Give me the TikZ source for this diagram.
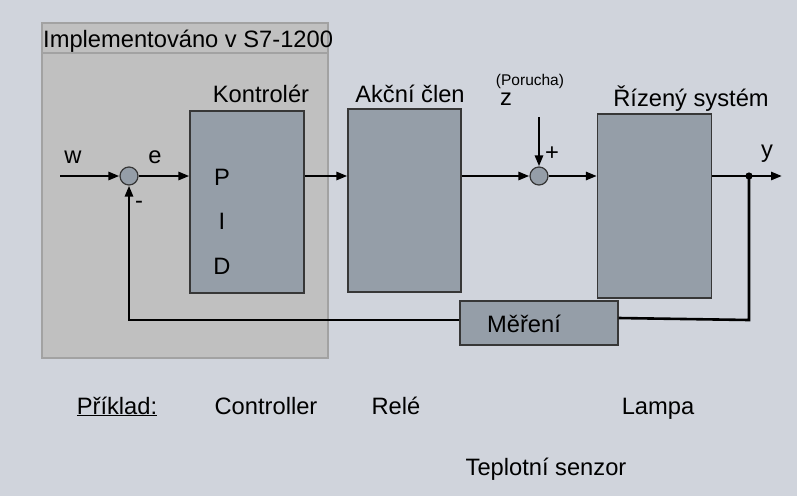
\documentclass[tikz,border=0pt]{standalone}
\usepackage{fontspec}
\setmainfont{Liberation Sans}
\usetikzlibrary{arrows.meta}
\definecolor{bgc}{RGB}{208,212,220}
\definecolor{implc}{RGB}{192,192,192}
\definecolor{implb}{RGB}{162,162,162}
\definecolor{blockc}{RGB}{149,158,168}
\definecolor{edgec}{RGB}{55,55,55}
\tikzset{
  txt/.style={font=\fontsize{23.7}{28}\selectfont, inner sep=0pt, text=black, anchor=base},
  small/.style={font=\fontsize{15.5}{18}\selectfont, inner sep=0pt, text=black, anchor=base},
  blockbox/.style={draw=edgec, line width=1.2pt, fill=blockc, inner sep=0pt},
  sumnode/.style={circle, draw=edgec, line width=1.2pt, fill=blockc, minimum size=18pt, inner sep=0pt},
  conn/.style={line width=2.6pt, draw=black},
  arr/.style={conn, -{Triangle[length=11pt,width=8pt]}},
}
\begin{document}
\begin{tikzpicture}[x=1pt,y=-1pt]
\fill[bgc] (0,0) rectangle (797,496);
\useasboundingbox (0,0) rectangle (797,496);
% implementation box
\draw[implb, fill=implc, line width=2.6pt] (42,23) rectangle (328,358);
\draw[implb, line width=2pt] (42,53) -- (328,53);
\node[txt, anchor=base west] (title) at (43,47) {Implementováno v S7-1200};

% blocks
\node[blockbox, minimum width=114pt, minimum height=182pt] (k) at (247,202) {};
\node[blockbox, minimum width=113pt, minimum height=183pt] (a) at (404.5,200.5) {};
\node[blockbox, minimum width=114pt, minimum height=184pt] (r) at (654.5,206) {};
\node[blockbox, minimum width=158pt, minimum height=44pt] (m) at (539,323) {};
\node[txt] (mtxt) at (524,332) {Měření};

\node[txt] (kl) at (261,102) {Kontrolér};
\node[txt] (al) at (410,102) {Akční člen};
\node[txt] (rl) at (691,106) {Řízený systém};
\node[txt] (p) at (222,185) {P};
\node[txt] (i) at (222,229) {I};
\node[txt] (d) at (222,274) {D};

% summing junctions
\node[sumnode] (s1) at (129,176) {};
\node[sumnode] (s2) at (539,176) {};

\node[txt] (wl) at (73,163) {w};
\node[txt] (el) at (155,163) {e};
\node[txt] (minus) at (139,208) {-};
\node[txt] (plus) at (552,160) {+};
\node[txt] (zl) at (506,105) {z};
\node[small] (por) at (530,85) {(Porucha)};
\node[txt] (yl) at (767,157) {y};

\coordinate (win) at (60,176);
\coordinate (ztop) at (539,117);
\coordinate (yout) at (782,176);
\coordinate (dot) at (749,176);

\draw[arr] (win) -- (s1);
\draw[arr] (s1) -- (s1 -| k.west);
\draw[arr] (k.east |- s1) -- (a.west |- s1);
\draw[arr] (a.east |- s2) -- (s2);
\draw[arr] (s2) -- (r.west |- s2);
\draw[arr] (r.east |- s2) -- (yout);
\draw[arr] (ztop) -- (s2);
\fill (dot) circle (3.6pt);
\draw[conn] (dot) -- (749,320) -- (m.east |- 0,318);
\draw[arr] (m.west |- 0,320) -| (s1);

% examples
\node[txt] (pr) at (117,414) {\underline{Příklad:}};
\node[txt] (ctrl) at (266,414) {Controller};
\node[txt] (rele) at (396,414) {Relé};
\node[txt] (lamp) at (658,414) {Lampa};
\node[txt] (sen) at (546,475) {Teplotní senzor};
\end{tikzpicture}
\end{document}
